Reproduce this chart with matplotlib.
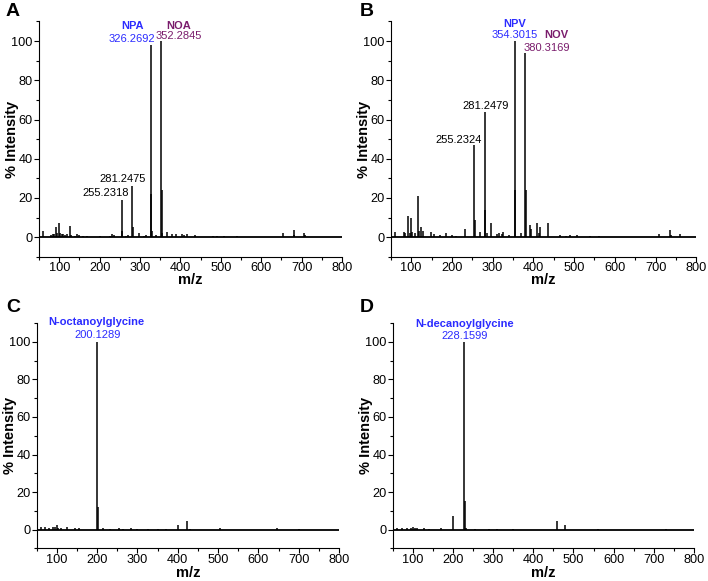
import numpy as np
import matplotlib
matplotlib.use("Agg")
import matplotlib.pyplot as plt
from matplotlib.ticker import MultipleLocator

plt.rcParams['font.family'] = ['Liberation Sans', 'DejaVu Sans']

BLUE = "#2b2bff"
PURPLE = "#7a1c6c"

# peak lists (m/z, % intensity)
mz_A = [60, 80, 85, 88, 92, 95, 100, 103, 106, 110, 115, 120, 126, 130, 140, 145, 150, 160, 170,
        200, 225, 230, 235, 255.2318, 256.2, 265, 270, 281.2475, 282.25, 297, 310, 316,
        326.2692, 327.27, 329, 340, 352.2845, 353.29, 355, 368, 380, 390, 405, 410, 416, 435,
        480, 490, 508, 540, 600, 654, 680, 682, 705, 708, 750]
int_A = [3, 1, 1.5, 1.5, 5, 2, 7, 2, 1.5, 1.8, 1.2, 1.5, 5.5, 1, 0.8, 1.5, 1.2, 0.6, 0.5,
         0.5, 0.8, 1.5, 1.2, 19, 3, 0.7, 1, 26, 5, 2, 0.7, 1.2,
         98, 22, 3, 1, 100, 24, 2, 2.5, 1.5, 1.5, 1.5, 1.3, 1.5, 1,
         0.8, 0.6, 0.8, 0.4, 0.3, 2, 3.5, 1, 2, 1, 0.3]

mz_B = [60, 82, 86, 92, 96, 100, 103, 110, 116, 120, 125, 128, 148, 155, 170, 186, 200, 210, 233,
        255.2324, 256.2, 270, 281.2479, 282.25, 285, 297, 310, 315, 322, 326, 340,
        354.3015, 355.3, 370, 380.3169, 381.3, 391, 395, 408, 413, 416, 435,
        465, 480, 490, 508, 540, 560, 610, 708, 735, 738, 760]
int_B = [2.5, 2.5, 2, 11, 2, 10, 2.5, 2, 21, 3, 5, 3, 2.5, 1.5, 1, 2, 1, 0.5, 4,
         47, 9, 2.5, 64, 14, 2, 7, 1.5, 2, 1.5, 2.5, 1,
         100, 24, 2, 94, 24, 6, 4, 7, 2, 5, 7,
         1, 0.8, 1, 1, 0.7, 0.5, 0.3, 1.5, 3.5, 1, 1.5]

mz_C = [60, 70, 80, 90, 95, 100, 104, 110, 126, 145, 155, 200.1289, 201.13, 215, 232, 254, 265,
        284, 300, 325, 350, 370, 400, 424, 430, 505, 645, 700]
int_C = [1.2, 1.5, 1, 1.5, 1.5, 2.5, 1, 0.8, 1.5, 0.8, 0.8, 100, 12, 1, 0.6, 0.8, 0.6,
         0.8, 0.4, 0.5, 0.4, 0.6, 2.5, 4.5, 0.5, 0.7, 0.8, 0.3]

mz_D = [60, 72, 85, 95, 100, 105, 110, 128, 140, 170, 200, 228.1599, 229.16, 232, 255, 290, 310,
        350, 458, 480, 560, 730]
int_D = [1, 0.8, 0.7, 1, 1.5, 1, 1, 1, 0.6, 0.8, 7.5, 100, 15, 1, 0.6, 0.4, 0.4,
         0.3, 4.5, 2.5, 0.3, 0.5]

# annotations: (x, y, text, colour, bold)
notes_A = [(281, 107.6, "NPA", BLUE, True), (281, 101.2, "326.2692", BLUE, False),
           (395, 107.6, "NOA", PURPLE, True), (397, 102.6, "352.2845", PURPLE, False),
           (256, 29.5, "281.2475", "black", False), (214, 22.6, "255.2318", "black", False)]
notes_B = [(355, 108.9, "NPV", BLUE, True), (355, 103.3, "354.3015", BLUE, False),
           (457, 103.3, "NOV", PURPLE, True), (432, 96.4, "380.3169", PURPLE, False),
           (282, 67.1, "281.2479", "black", False), (217, 49.4, "255.2324", "black", False)]
notes_C = [(199, 110.4, "N-octanoylglycine", BLUE, True), (200, 103.6, "200.1289", BLUE, False)]
notes_D = [(228, 109.5, "N-decanoylglycine", BLUE, True), (228, 103.2, "228.1599", BLUE, False)]

W, H = 708, 581
fig = plt.figure(figsize=(W / 100, H / 100), dpi=100)

# letter, data, notes, axes rect, x-label centre (px), letter position (px)
panels = [
    ("A", mz_A, int_A, notes_A, [0.0551, 0.558, 0.428, 0.405], 280, (6, 11)),
    ("B", mz_B, int_B, notes_B, [0.552, 0.558, 0.4315, 0.405], 280, (360, 11)),
    ("C", mz_C, int_C, notes_C, [0.0518, 0.056, 0.427, 0.388], 573, (6, 307)),
    ("D", mz_D, int_D, notes_D, [0.555, 0.056, 0.425, 0.388], 573, (360, 307)),
]

for letter, mz, inten, notes, rect, xlab_px, let_px in panels:
    ax = fig.add_axes(rect)
    ax.axhline(0, color="black", lw=1.3, zorder=1)
    ax.vlines(mz, 0, inten, color="black", lw=1.1)
    ax.set_xlim(50, 800)
    ax.set_ylim(-10, 110)
    ax.xaxis.set_minor_locator(MultipleLocator(50))
    ax.yaxis.set_minor_locator(MultipleLocator(10))
    ax.set_xticks(range(100, 801, 100))
    ax.set_yticks(range(0, 101, 20))
    ax.tick_params(which="major", direction="out", length=3.5, width=0.8, labelsize=9.2, pad=1)
    ax.tick_params(axis="x", which="major", pad=0.5)
    ax.tick_params(which="minor", direction="out", length=2, width=0.8)
    for s in ("top", "right"):
        ax.spines[s].set_visible(False)
    for s in ("left", "bottom"):
        ax.spines[s].set_linewidth(0.8)
    ax_h = rect[3] * H
    ax_w = rect[2] * W
    bottom_px = (1 - rect[1]) * H
    ax.set_xlabel("m/z", fontsize=10.5, fontweight="bold", va="center")
    ax.xaxis.set_label_coords(0.5, -(xlab_px - bottom_px) / ax_h)
    ax.set_ylabel("% Intensity", fontsize=10.5, fontweight="bold", va="center")
    ax.yaxis.set_label_coords(-27 / ax_w, 0.5)
    for x, y, txt, col, bold in notes:
        ax.text(x, y, txt, color=col, fontsize=8.0,
                fontweight="bold" if bold else "normal", ha="center", va="center")
    fig.text(let_px[0] / W, 1 - let_px[1] / H, letter, fontsize=14,
             fontweight="bold", ha="left", va="center")

fig.savefig("out.png", dpi=100)
